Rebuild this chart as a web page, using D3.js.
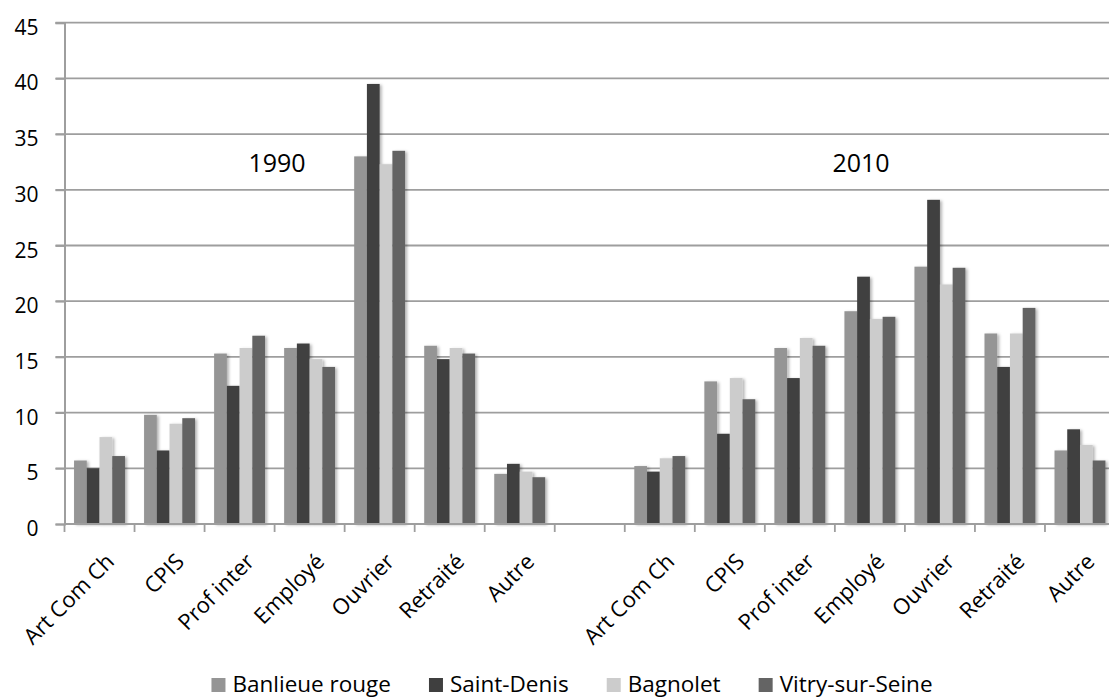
<!DOCTYPE html>
<html>
<head>
<meta charset="utf-8">
<script src="https://cdn.jsdelivr.net/npm/d3@7"></script>
<style>
  body { margin: 0; background: #fff; }
  text { font-family: "Open Sans", sans-serif; fill: #000; }
</style>
</head>
<body>
<div id="chart"></div>
<script>
// categories (the empty one separates 1990 from 2010)
var categories = ["Art Com Ch", "CPIS", "Prof inter", "Employé", "Ouvrier", "Retraité", "Autre", "",
                  "Art Com Ch", "CPIS", "Prof inter", "Employé", "Ouvrier", "Retraité", "Autre"];
var seriesNames = ["Banlieue rouge", "Saint-Denis", "Bagnolet", "Vitry-sur-Seine"];
var banlieueRouge = [5.7, 9.8, 15.3, 15.8, 33.0, 16.0, 4.5, null, 5.2, 12.8, 15.8, 19.1, 23.1, 17.1, 6.6];
var saintDenis    = [5.0, 6.6, 12.4, 16.2, 39.5, 14.8, 5.4, null, 4.7, 8.1, 13.1, 22.2, 29.1, 14.1, 8.5];
var bagnolet      = [7.8, 9.0, 15.8, 14.8, 32.3, 15.8, 4.7, null, 5.9, 13.1, 16.7, 18.4, 21.5, 17.1, 7.1];
var vitry         = [6.1, 9.5, 16.9, 14.1, 33.5, 15.3, 4.2, null, 6.1, 11.2, 16.0, 18.6, 23.0, 19.4, 5.7];
var yTicks = [0, 5, 10, 15, 20, 25, 30, 35, 40, 45];
var yearLabels = ["1990", "2010"];

var seriesValues = [banlieueRouge, saintDenis, bagnolet, vitry];
var colors = ["#959595", "#3f3f3f", "#cccccc", "#646464"];

var W = 1109, H = 699;
var plotLeft = 64.5, plotTop = 22.7, plotRight = 1115, plotBottom = 524;

var svg = d3.select("#chart").append("svg")
    .attr("width", W)
    .attr("height", H);

// soft shadow like the original
var defs = svg.append("defs");
defs.append("filter").attr("id", "shadow")
    .attr("x", "-20%").attr("y", "-5%").attr("width", "160%").attr("height", "110%")
    .append("feDropShadow")
    .attr("dx", 2).attr("dy", 1).attr("stdDeviation", 1.5)
    .attr("flood-color", "#000").attr("flood-opacity", 0.3);

var x0 = d3.scaleBand()
    .domain(d3.range(categories.length))
    .range([plotLeft, plotRight])
    .padding(0);

var bw = x0.bandwidth() / 5.5; // gap width 150%
var x1 = d3.scaleBand()
    .domain(d3.range(seriesNames.length))
    .range([bw * 0.75, x0.bandwidth() - bw * 0.75])
    .padding(0);

var y = d3.scaleLinear()
    .domain([0, 45])
    .range([plotBottom, plotTop]);

// gridlines
svg.append("g").selectAll("line")
    .data(yTicks.filter(d => d > 0))
    .enter().append("line")
    .attr("x1", plotLeft - 9).attr("x2", W)
    .attr("y1", d => y(d)).attr("y2", d => y(d))
    .attr("stroke", "#9e9e9e").attr("stroke-width", 1.8);

// y axis
var yAxis = svg.append("g")
    .attr("transform", "translate(" + plotLeft + ",0)")
    .call(d3.axisLeft(y).tickValues(yTicks).tickSize(9).tickPadding(17));
yAxis.select(".domain").attr("stroke", "#9e9e9e").attr("stroke-width", 2);
yAxis.selectAll(".tick line").attr("stroke", "#9e9e9e").attr("stroke-width", 1.8);
yAxis.selectAll(".tick text")
    .style("font-size", "21px")
    .style("font-family", "'Open Sans', sans-serif")
    .attr("dy", "0.55em")
    .attr("y", 0);

// bars
var groups = svg.append("g").selectAll("g")
    .data(d3.range(categories.length))
    .enter().append("g")
    .attr("transform", i => "translate(" + x0(i) + ",0)");

groups.selectAll("rect")
    .data(i => seriesValues.map((s, k) => ({ k: k, v: s[i] })).filter(d => d.v != null))
    .enter().append("rect")
    .attr("x", d => x1(d.k))
    .attr("width", x1.bandwidth())
    .attr("y", d => y(d.v))
    .attr("height", d => y(0) - y(d.v))
    .attr("fill", d => colors[d.k])
    .attr("filter", "url(#shadow)");

// x axis
svg.append("line")
    .attr("x1", plotLeft).attr("x2", W)
    .attr("y1", plotBottom).attr("y2", plotBottom)
    .attr("stroke", "#9e9e9e").attr("stroke-width", 2);

svg.append("g").selectAll("line")
    .data(d3.range(categories.length))
    .enter().append("line")
    .attr("x1", i => x0(i)).attr("x2", i => x0(i))
    .attr("y1", plotBottom).attr("y2", plotBottom + 8)
    .attr("stroke", "#9e9e9e").attr("stroke-width", 1.8);

svg.append("g").selectAll("text")
    .data(categories)
    .enter().append("text")
    .attr("transform", (d, i) => "translate(" + (x0(i) + x0.bandwidth() / 2 + 16) + "," + (plotBottom + 39) + ") rotate(-45)")
    .attr("text-anchor", "end")
    .style("font-size", "22px")
    .text(d => d);

// year annotations
svg.selectAll(".year")
    .data(yearLabels)
    .enter().append("text")
    .attr("class", "year")
    .attr("x", (d, i) => i === 0 ? 277 : 861)
    .attr("y", 172)
    .attr("text-anchor", "middle")
    .style("font-size", "25px")
    .text(d => d);

// legend
var legend = svg.append("g");
var items = legend.selectAll("g")
    .data(seriesNames)
    .enter().append("g");
items.append("rect")
    .attr("width", 14).attr("height", 14)
    .attr("y", -14)
    .attr("fill", (d, i) => colors[i]);
items.append("text")
    .attr("x", 21)
    .attr("y", 0)
    .style("font-size", "22.5px")
    .text(d => d);

var pos = 0;
items.each(function() {
    var g = d3.select(this);
    g.attr("transform", "translate(" + pos + ",0)");
    pos += 21 + g.select("text").node().getComputedTextLength() + 38;
});
var legendWidth = pos - 38;
legend.attr("transform", "translate(" + (572 - legendWidth / 2) + ",692)");
</script>
</body>
</html>
